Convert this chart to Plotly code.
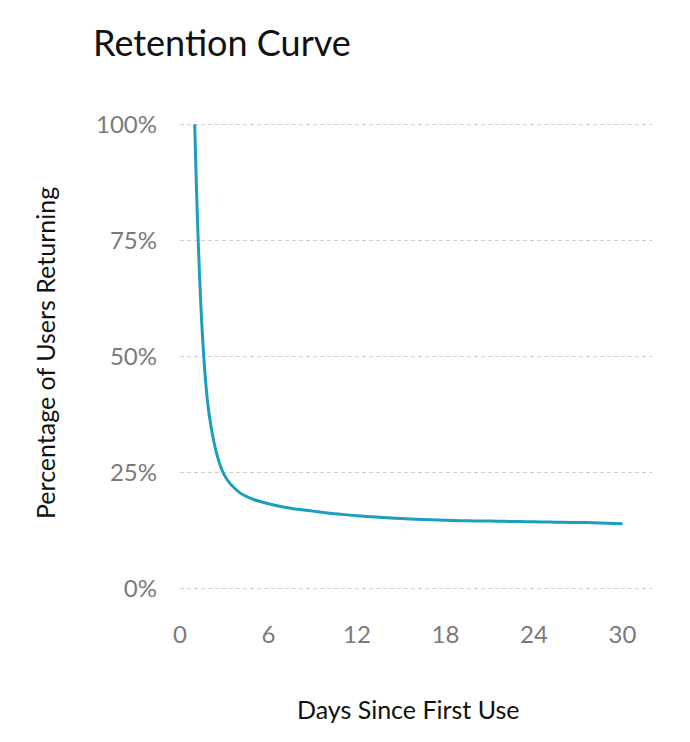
import plotly.graph_objects as go

days = list(range(1, 31))
retention = [100, 37, 24.5, 20.8, 19.2, 18.3, 17.6, 17.1, 16.7, 16.3,
             16.0, 15.7, 15.5, 15.3, 15.1, 14.95, 14.85, 14.75, 14.65, 14.6,
             14.55, 14.5, 14.45, 14.4, 14.35, 14.3, 14.25, 14.2, 14.1, 14.0]
x_ticks = [0, 6, 12, 18, 24, 30]
y_ticks = [0, 25, 50, 75, 100]
y_tick_labels = ["0%", "25%", "50%", "75%", "100%"]

FONT = "Lato, 'Open Sans', sans-serif"
OFF = 8  # page body margin

W, H = 690, 742
left_px, right_px = 180 - OFF, 652 - OFF
top_px, bot_px = 121.7 - OFF, 591.3 - OFF
L, R, T, B = left_px, W - right_px, top_px, H - bot_px

fig = go.Figure()
fig.add_trace(go.Scatter(
    x=days, y=retention, mode="lines",
    line=dict(color="#1b9ebf", width=3, shape="spline", smoothing=1.0),
    hoverinfo="x+y",
))

fig.update_layout(
    width=W, height=H,
    margin=dict(l=L, r=R, t=T, b=B),
    paper_bgcolor="white", plot_bgcolor="white",
    showlegend=False,
    font=dict(family=FONT),
    title=dict(text="Retention Curve", x=(93 - OFF) / W, xanchor="left",
               y=1 - (43 - OFF) / H, yanchor="middle", xref="container", yref="container",
               font=dict(size=36, color="#111111", family=FONT)),
    xaxis=dict(range=[0, 32], tickvals=x_ticks, showgrid=False, zeroline=False,
               showline=False, ticks="", ticklabelstandoff=27,
               tickfont=dict(size=24, color="#7a7a7a", family=FONT)),
    yaxis=dict(range=[-0.5, 100.5], tickvals=y_ticks, ticktext=y_tick_labels,
               showgrid=True, gridcolor="#cfcfcf", griddash="4px,3px", gridwidth=1,
               zeroline=False, showline=False, ticks="", ticklabelstandoff=22,
               tickfont=dict(size=24, color="#7a7a7a", family=FONT)),
)

plot_w = W - L - R
plot_h = H - T - B
fig.add_annotation(text="Days Since First Use", xref="paper", yref="paper",
                   x=(408 - OFF - L) / plot_w, y=(bot_px - (709 - OFF)) / plot_h,
                   xanchor="center", yanchor="middle", showarrow=False,
                   font=dict(size=25, color="#111111", family=FONT))
fig.add_annotation(text="Percentage of Users Returning", xref="paper", yref="paper",
                   x=(45 - OFF - L) / plot_w, y=(bot_px - (353 - OFF)) / plot_h, textangle=-90,
                   xanchor="center", yanchor="middle", showarrow=False,
                   font=dict(size=25, color="#111111", family=FONT))

fig.write_html("out.html")
